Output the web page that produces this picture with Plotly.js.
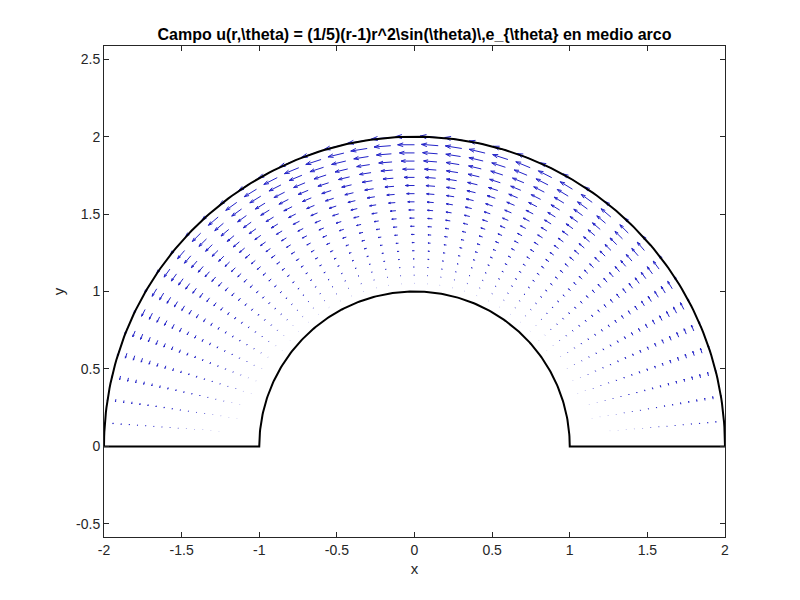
<!DOCTYPE html>
<html>
<head>
<meta charset="utf-8">
<script src="https://cdn.plot.ly/plotly-3.0.1.min.js"></script>
<style>html,body{margin:0;padding:0;background:#fff;}#plot{width:800px;height:600px;}</style>
</head>
<body>
<div id="plot"></div>
<script>
// Grid of radii (1..2) and angles (degrees, 0..180)
const rVals = [1, 1.0526, 1.1053, 1.1579, 1.2105, 1.2632, 1.3158, 1.3684, 1.4211, 1.4737,
               1.5263, 1.5789, 1.6316, 1.6842, 1.7368, 1.7895, 1.8421, 1.8947, 1.9474, 2];
const thetaDeg = [0, 4.5, 9, 13.5, 18, 22.5, 27, 31.5, 36, 40.5, 45, 49.5, 54, 58.5, 63, 67.5,
                  72, 76.5, 81, 85.5, 90, 94.5, 99, 103.5, 108, 112.5, 117, 121.5, 126, 130.5,
                  135, 139.5, 144, 148.5, 153, 157.5, 162, 166.5, 171, 175.5, 180];
// Field coefficient from the title: u = (1/5)(r-1) r^2 sin(theta) e_theta
const coef = 1 / 5;
// Domain boundary: half annulus radii
const rInner = 1, rOuter = 2;
const xTicks = [-2, -1.5, -1, -0.5, 0, 0.5, 1, 1.5, 2];
const yTicks = [-0.5, 0, 0.5, 1, 1.5, 2, 2.5];

// Build base points and vectors
const X = [], Y = [], U = [], V = [];
for (const r of rVals) {
  for (const d of thetaDeg) {
    const th = d * Math.PI / 180;
    const m = coef * (r - 1) * r * r * Math.sin(th);
    X.push(r * Math.cos(th)); Y.push(r * Math.sin(th));
    U.push(-m * Math.sin(th)); V.push(m * Math.cos(th));
  }
}
// MATLAB-like autoscale
const n = Math.sqrt(X.length);
const delx = (Math.max(...X) - Math.min(...X)) / n;
const dely = (Math.max(...Y) - Math.min(...Y)) / n;
let len = 0;
for (let i = 0; i < X.length; i++) {
  len = Math.max(len, Math.sqrt((U[i] / delx) ** 2 + (V[i] / dely) ** 2));
}
const sc = 1.0 / len;
const alpha = 0.33, beta = 0.33;
const qx = [], qy = [];
for (let i = 0; i < X.length; i++) {
  const u = U[i] * sc, v = V[i] * sc;
  const tx = X[i] + u, ty = Y[i] + v;
  qx.push(X[i], tx, null);
  qy.push(Y[i], ty, null);
  qx.push(tx - alpha * (u + beta * v), tx, tx - alpha * (u - beta * v), null);
  qy.push(ty - alpha * (v - beta * u), ty, ty - alpha * (v + beta * u), null);
}

// Boundary path: outer arc (2,0)->(-2,0), base, inner arc (-1,0)->(1,0), base
const bx = [], by = [];
const N = 200;
for (let k = 0; k <= N; k++) { const t = Math.PI * k / N; bx.push(rOuter * Math.cos(t)); by.push(rOuter * Math.sin(t)); }
for (let k = N; k >= 0; k--) { const t = Math.PI * k / N; bx.push(rInner * Math.cos(t)); by.push(rInner * Math.sin(t)); }
bx.push(rOuter); by.push(0);

const traces = [
  {x: qx, y: qy, mode: 'lines', type: 'scatter', line: {color: 'rgb(35,35,200)', width: 1},
   hoverinfo: 'skip', showlegend: false},
  {x: bx, y: by, mode: 'lines', type: 'scatter', line: {color: '#000', width: 2},
   hoverinfo: 'skip', showlegend: false}
];

const axisCommon = {
  showgrid: false, zeroline: false, showline: true, linecolor: '#262626', linewidth: 1,
  mirror: 'ticks', ticks: 'inside', ticklen: 5, tickcolor: '#262626', tickwidth: 1,
  tickfont: {family: 'Liberation Sans, Arial, sans-serif', size: 14, color: '#262626'}
};

const layout = {
  width: 800, height: 600,
  paper_bgcolor: '#fff', plot_bgcolor: '#fff',
  margin: {l: 104, r: 75, t: 46, b: 63},
  title: {
    text: 'Campo u(r,\\theta) = (1/5)(r-1)r^2\\sin(\\theta)\\,e_{\\theta} en medio arco',
    font: {family: 'Liberation Sans, Arial, sans-serif', size: 16, color: '#000', weight: 'bold'},
    xref: 'paper', x: 0.5, xanchor: 'center',
    yref: 'container', y: 1 - 34 / 600, yanchor: 'middle'
  },
  xaxis: Object.assign({}, axisCommon, {
    range: [-2, 2], tickvals: xTicks, ticktext: xTicks.map(String),
    title: {text: 'x', font: {family: 'Liberation Sans, Arial, sans-serif', size: 15, color: '#262626'}, standoff: 6}
  }),
  yaxis: Object.assign({}, axisCommon, {
    range: [-0.585, 2.585], tickvals: yTicks, ticktext: yTicks.map(String),
    title: {text: 'y', font: {family: 'Liberation Sans, Arial, sans-serif', size: 15, color: '#262626'}, standoff: 7}
  })
};

Plotly.newPlot('plot', traces, layout, {displayModeBar: false, staticPlot: true});
</script>
</body>
</html>
